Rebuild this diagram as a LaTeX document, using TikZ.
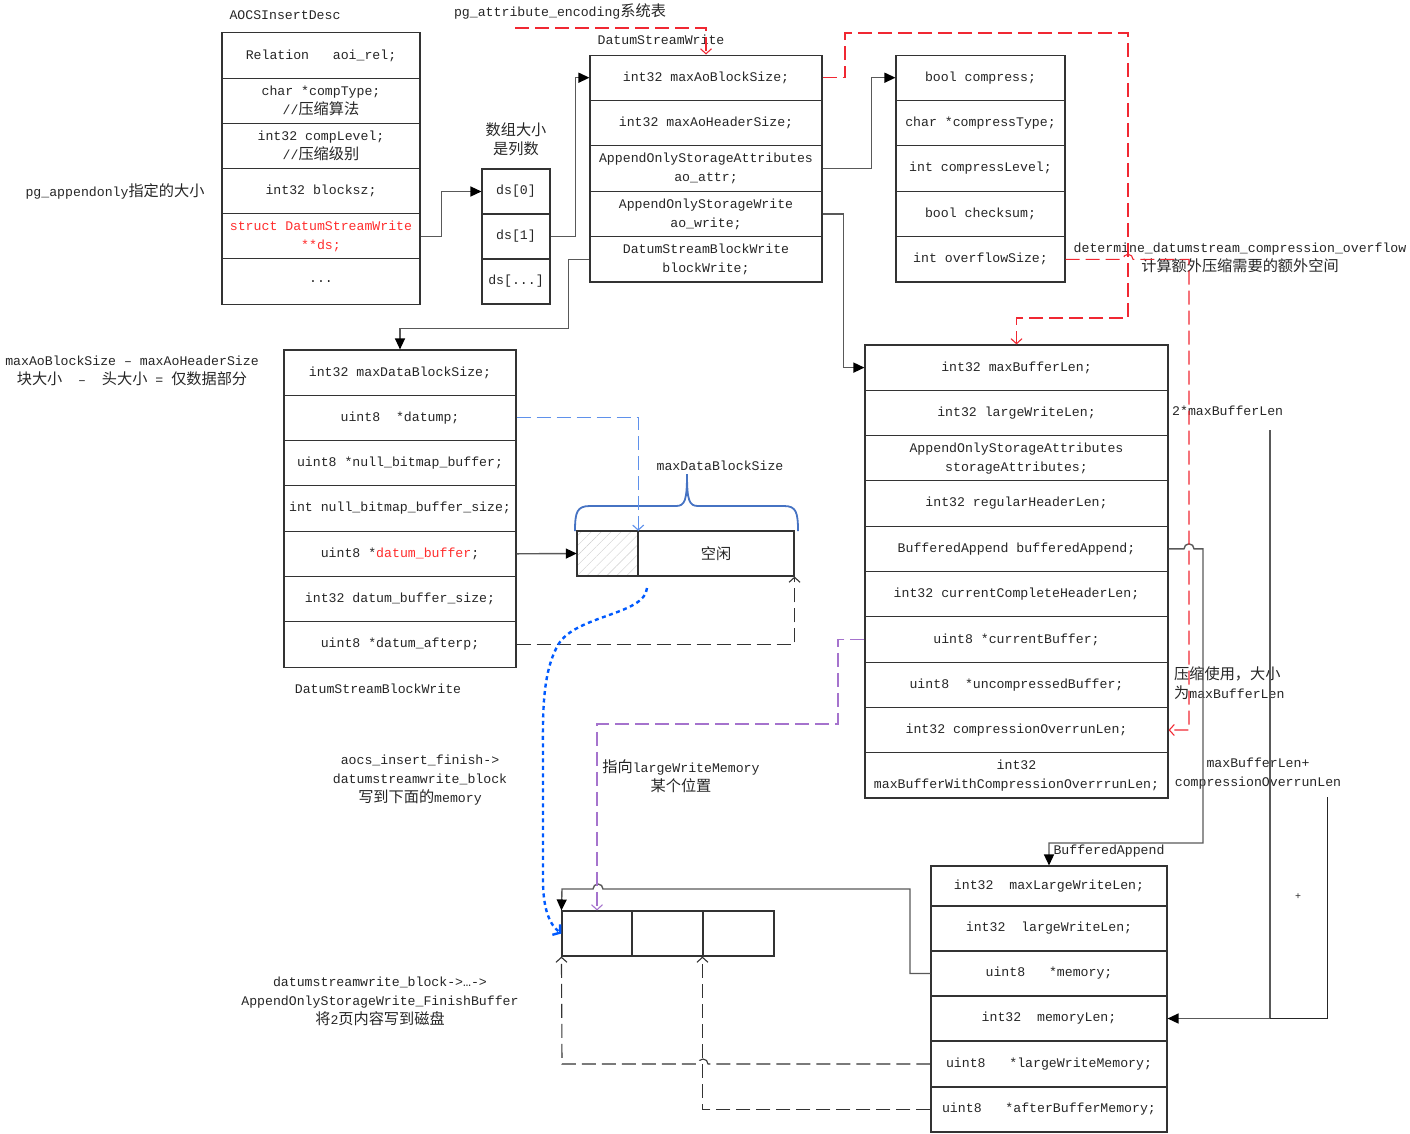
\documentclass[tikz,border=0pt]{standalone}
\usepackage{fontspec}
\setmainfont{Liberation Mono}
\newfontfamily\cjk[Scale=1.15]{Noto Sans CJK SC}
\newcommand\zh[1]{{\cjk #1}}
\usetikzlibrary{arrows.meta, patterns.meta}
\definecolor{redline}{RGB}{240,40,50}
\definecolor{redtxt}{RGB}{255,45,45}
\definecolor{blueline}{RGB}{95,145,235}
\definecolor{dotblue}{RGB}{0,90,255}
\definecolor{purpline}{RGB}{165,115,205}
\definecolor{bracec}{RGB}{70,115,195}

\begin{document}
\begin{tikzpicture}[x=1pt, y=-1pt,
    every node/.style={text=black!85, font=\fontsize{13.2}{19}\selectfont},
    lbl/.style={align=center, inner sep=0pt},
    f/.style={rectangle, draw=black!80, line width=1.1pt, inner sep=0pt, align=center, minimum height=45.3pt},
    fa/.style={f, minimum width=198pt},
    fd/.style={f, minimum width=68pt, minimum height=45pt},
    fw/.style={f, minimum width=232pt},
    fc/.style={f, minimum width=169pt},
    fb/.style={f, minimum width=232pt},
    fs/.style={f, minimum width=303pt},
    fm/.style={f, minimum width=236pt},
    a/.style={-{Triangle[length=11pt,width=10pt,color=black]}, line width=1.4pt, black!65},
    dsh/.style={-{Straight Barb[length=5pt,width=11pt]}, dash pattern=on 14pt off 6pt, line width=1.1pt, black!80},
    rdsh/.style={dsh, redline},
    bdsh/.style={dsh, blueline},
    pdsh/.style={dsh, purpline},
    bluedot/.style={-{Straight Barb[length=5pt,width=13pt]}, dash pattern=on 4pt off 3.5pt, line width=2.4pt, dotblue},
]
\useasboundingbox (0,0) rectangle (1410,1133);

% AOCSInsertDesc
\node[lbl] (aoT) at (285,15) {AOCSInsertDesc};
\node[fa, minimum height=45.2pt] (a1) at (321,55.5) {Relation~~~aoi\_rel;};
\node[fa, minimum height=45.2pt] (a2) at (321,100.7) {char *compType;\\//\zh{压缩算法}};
\node[fa, minimum height=45.2pt] (a3) at (321,145.9) {int32 compLevel;\\//\zh{压缩级别}};
\node[fa, minimum height=45.2pt] (a4) at (321,191.1) {int32 blocksz;};
\node[fa, minimum height=45.2pt, text=redtxt] (a5) at (321,236.3) {struct DatumStreamWrite\\**ds;};
\node[fa, minimum height=45.2pt] (a6) at (321,281.5) {...};
\node[lbl] (pgAppend) at (115,191) {pg\_appendonly\zh{指定的大小}};

% ds array
\node[lbl] (arrSz) at (516,139) {\zh{数组大小}\\\zh{是列数}};
\node[fd] (d0) at (516,191.5) {ds[0]};
\node[fd] (d1) at (516,236.5) {ds[1]};
\node[fd] (d2) at (516,281.5) {ds[...]};

% DatumStreamWrite
\node[lbl] (pgAttr) at (560,11) {pg\_attribute\_encoding\zh{系统表}};
\node[lbl] (dswT) at (661,40) {DatumStreamWrite};
\node[fw] (w1) at (706,77.7) {int32 maxAoBlockSize;};
\node[fw] (w2) at (706,123.1) {int32 maxAoHeaderSize;};
\node[fw] (w3) at (706,168.5) {AppendOnlyStorageAttributes\\ao\_attr;};
\node[fw] (w4) at (706,213.9) {AppendOnlyStorageWrite\\ao\_write;};
\node[fw] (w5) at (706,259.3) {DatumStreamBlockWrite\\blockWrite;};

% compression attributes
\node[fc] (c1) at (980.5,77.7) {bool compress;};
\node[fc] (c2) at (980.5,123.1) {char *compressType;};
\node[fc] (c3) at (980.5,168.5) {int compressLevel;};
\node[fc] (c4) at (980.5,213.9) {bool checksum;};
\node[fc] (c5) at (980.5,259.3) {int overflowSize;};
\node[lbl] (ovfl) at (1240,258) {determine\_datumstream\_compression\_overflow\\\zh{计算额外压缩需要的额外空间}};

% DatumStreamBlockWrite
\node[lbl] (blkSz) at (132,371) {maxAoBlockSize – maxAoHeaderSize\\\zh{块大小}~~–~~\zh{头大小} = \zh{仅数据部分}};
\node[fb] (b1) at (400,372.6) {int32 maxDataBlockSize;};
\node[fb] (b2) at (400,417.9) {uint8~~*datump;};
\node[fb] (b3) at (400,463.2) {uint8 *null\_bitmap\_buffer;};
\node[fb] (b4) at (400,508.5) {int null\_bitmap\_buffer\_size;};
\node[fb] (b5) at (400,553.8) {uint8 *\textcolor{redtxt}{datum\_buffer};};
\node[fb] (b6) at (400,599.1) {int32 datum\_buffer\_size;};
\node[fb] (b7) at (400,644.4) {uint8 *datum\_afterp;};
\node[lbl] (dsbwT) at (378,689) {DatumStreamBlockWrite};

% data block
\node[f, minimum width=61pt, minimum height=45pt, pattern={Lines[angle=45,distance=7pt,line width=0.4pt]}, pattern color=black!20] (hatch) at (607.5,553.5) {};
\node[f, minimum width=156pt, minimum height=45pt] (free) at (716,553.5) {\zh{空闲}};
\node[lbl] (mdbs) at (720,466) {maxDataBlockSize};
\draw[line width=1.8pt, bracec] (575,531) .. controls (575,512) and (577,506) .. (590,506) -- (676,506) .. controls (685,506) and (687,500) .. (687,474) .. controls (687,500) and (689,506) .. (698,506) -- (784,506) .. controls (796,506) and (798,512) .. (798,531);

% AppendOnlyStorageWrite
\node[fs] (s1) at (1016.5,367.6) {int32 maxBufferLen;};
\node[fs] (s2) at (1016.5,412.9) {int32 largeWriteLen;};
\node[fs] (s3) at (1016.5,458.2) {AppendOnlyStorageAttributes\\storageAttributes;};
\node[fs] (s4) at (1016.5,503.5) {int32 regularHeaderLen;};
\node[fs] (s5) at (1016.5,548.8) {BufferedAppend bufferedAppend;};
\node[fs] (s6) at (1016.5,594.1) {int32 currentCompleteHeaderLen;};
\node[fs] (s7) at (1016.5,639.4) {uint8 *currentBuffer;};
\node[fs] (s8) at (1016.5,684.7) {uint8~~*uncompressedBuffer;};
\node[fs] (s9) at (1016.5,730.0) {int32 compressionOverrunLen;};
\node[fs] (s10) at (1016.5,775.3) {int32\\maxBufferWithCompressionOverrrunLen;};
\node[lbl, anchor=west] (twoLbl) at (1172,411) {2*maxBufferLen};
\node[lbl, anchor=west, align=left] (cmpLbl) at (1174,683) {\zh{压缩使用，大小}\\\zh{为}maxBufferLen};
\node[lbl] (sumLbl) at (1258,774) {maxBufferLen+\\compressionOverrunLen};

% BufferedAppend
\node[lbl] (baT) at (1109,851) {BufferedAppend};
\node[fm, minimum height=40pt] (m1) at (1049,886) {int32~~maxLargeWriteLen;};
\node[fm, minimum height=45pt] (m2) at (1049,928.5) {int32~~largeWriteLen;};
\node[fm, minimum height=45pt] (m3) at (1049,973.5) {uint8~~~*memory;};
\node[fm, minimum height=45pt] (m4) at (1049,1018.5) {int32~~memoryLen;};
\node[fm, minimum height=46pt] (m5) at (1049,1064) {uint8~~~*largeWriteMemory;};
\node[fm, minimum height=45pt] (m6) at (1049,1109.5) {uint8~~~*afterBufferMemory;};
\node[lbl, font=\fontsize{10}{12}\selectfont] (plus) at (1298,897) {+};

% large write memory
\node[f, minimum width=70pt, minimum height=45pt] (mem1) at (597,933.5) {};
\node[f, minimum width=71pt, minimum height=45pt] (mem2) at (667.5,933.5) {};
\node[f, minimum width=71pt, minimum height=45pt] (mem3) at (738.5,933.5) {};
\node[lbl] (ptrLbl) at (681,776) {\zh{指向}largeWriteMemory\\\zh{某个位置}};
\node[lbl] (finLbl) at (420,780) {aocs\_insert\_finish->\\datumstreamwrite\_block\\\zh{写到下面的}memory};
\node[lbl] (fbLbl) at (380,1001) {datumstreamwrite\_block->…->\\AppendOnlyStorageWrite\_FinishBuffer\\\zh{将}2\zh{页内容写到磁盘}};

% pointers
\draw[a] (a5.east) -- ++(21,0) |- (d0.west);
\draw[a] (d1.east) -- ++(25,0) |- (w1.west);
\draw[a] (w3.east) -- ++(49,0) |- (c1.west);
\draw[a] (w4.east) -- ++(21,0) |- (s1.west);
\draw[a] (w5.west) -- ++(-21,0) -- ++(0,69) -| (b1.north);
\draw[a] (b5.east) -- (hatch.west);
\draw[a] (s5.east) -- (1184,548.8) arc[start angle=180, end angle=360, radius=5] -- (1203,548.8) -- (1203,843) -| (m1.north);
\draw[a] (m3.west) -- (910,973.5) -- (910,889) -- (603,889) arc[start angle=0, end angle=-180, radius=5] -- (562,889) -- (mem1.north west);
\coordinate (twoMax) at (1270,430);
\coordinate (ovr) at (1327,797);
\draw[a] (twoMax) |- (m4.east);
\draw[line width=0.8pt, black!85] (ovr) |- (twoMax |- m4.east);

% dashed references
\coordinate (pgA) at (515,28);
\draw[rdsh] (pgA) -| (w1.north);
\draw[rdsh] (w1.east) -| (845,33) -| (1128,318) -| (s1.north);
\draw[rdsh] (c5.east) -- (1123,259.3) arc[start angle=180, end angle=360, radius=5] -- (1189,259.3) |- (s9.east);
\draw[bdsh] (b2.east) -| (hatch.north east);
\draw[dsh] (b7.east) -| (free.south east);
\draw[pdsh] (s7.west) -| (838,724) -| (mem1.north);
\draw[dsh] (m5.west) -- (708,1064) arc[start angle=0, end angle=-180, radius=5] -- (562,1064) -- (mem1.south west);
\draw[dsh] (m6.west) -| (mem3.south west);
\coordinate (dotS) at (647,588);
\draw[bluedot] (dotS) .. controls (645,615) and (575,615) .. (558,645) .. controls (541,675) and (543,720) .. (543,760) -- (543,880) .. controls (543,910) and (550,925) .. (mem1.west);
\end{tikzpicture}
\end{document}
